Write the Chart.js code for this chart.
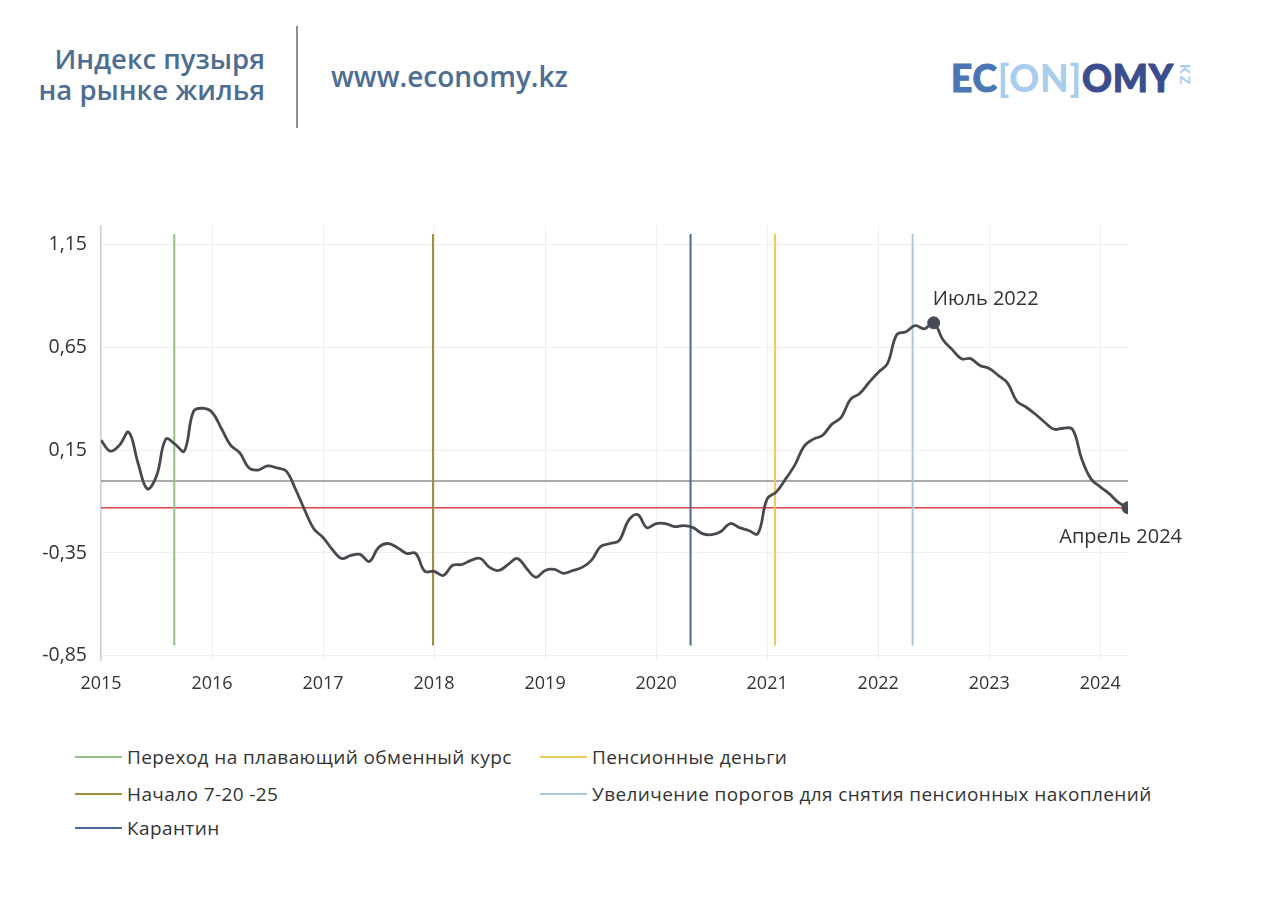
<!DOCTYPE html>
<html>
<head>
<meta charset="utf-8">
<script src="https://cdn.jsdelivr.net/npm/chart.js@4"></script>
<style>
  body { margin: 0; background: #fff; width: 1280px; height: 898px; overflow: hidden; position: relative; font-family: "Open Sans", sans-serif; }
  #title { position: absolute; right: 1015px; top: 43px; text-align: right; color: #4e6d92; font-size: 27.5px; font-weight: 600; line-height: 31px; }
  #divider { position: absolute; left: 296px; top: 26px; width: 2px; height: 102px; background: #8a9099; }
  #site { position: absolute; left: 331px; top: 57px; color: #4e6d92; font-size: 28px; font-weight: 600; }
  #logo { position: absolute; left: 951px; top: 55px; font-family: Lato, sans-serif; font-weight: 900; font-size: 37px; letter-spacing: 0.8px; -webkit-text-stroke: 1px currentColor; }
  #logo .a { color: #4a76b4; } #logo .b { color: #a9cdec; -webkit-text-stroke: 0; } #logo .c { color: #3b4d8e; }
  #kz { position: absolute; left: 1194px; top: 64px; font-family: Lato, sans-serif; font-weight: 900; font-size: 14px; letter-spacing: 2px; color: #a9cdec; transform: rotate(90deg); transform-origin: left top; }
  #wrap { position: absolute; left: 0; top: 200px; width: 1280px; height: 500px; }
  #legend { position: absolute; left: 75px; top: 744px; font-size: 19px; letter-spacing: 0.4px; color: #333; }
  .item { position: absolute; white-space: nowrap; display: flex; align-items: center; height: 26px; }
  .item i { display: inline-block; width: 47px; height: 2.5px; margin-right: 5px; }
</style>
</head>
<body>
<div id="title">Индекс пузыря<br>на рынке жилья</div>
<div id="divider"></div>
<div id="site">www.economy.kz</div>
<div id="logo"><span class="a">EC</span><span class="b">[ON]</span><span class="c">OMY</span></div>
<div id="kz">KZ</div>
<div id="wrap"><canvas id="chart"></canvas></div>
<div id="legend"></div>
<script>
// monthly index, Jan 2015 .. Apr 2024
const startYear = 2015;
const values = [
  0.198, 0.145, 0.174, 0.237, 0.087, -0.038, 0.024, 0.203, 0.179, 0.145, 0.338, 0.353,
  0.334, 0.256, 0.174, 0.136, 0.063, 0.053, 0.073, 0.063, 0.049, -0.038, -0.140, -0.232,
  -0.275, -0.333, -0.377, -0.362, -0.357, -0.391, -0.323, -0.304, -0.323, -0.352, -0.352, -0.439,
  -0.439, -0.459, -0.410, -0.406, -0.386, -0.377, -0.420, -0.435, -0.406, -0.377, -0.425, -0.468,
  -0.435, -0.430, -0.449, -0.435, -0.420, -0.386, -0.319, -0.304, -0.290, -0.193, -0.164, -0.227,
  -0.207, -0.207, -0.222, -0.217, -0.227, -0.256, -0.261, -0.246, -0.207, -0.227, -0.241, -0.256,
  -0.087, -0.053, 0.010, 0.078, 0.169, 0.203, 0.222, 0.276, 0.309, 0.396, 0.425, 0.478,
  0.527, 0.570, 0.710, 0.725, 0.754, 0.739, 0.768, 0.686, 0.638, 0.594, 0.594, 0.561,
  0.546, 0.512, 0.474, 0.387, 0.358, 0.324, 0.285, 0.251, 0.256, 0.251, 0.107, 0.010,
  -0.029, -0.063, -0.106, -0.130
];
const markIdx = [90, 111];
const markLabels = ["Июль 2022", "Апрель 2024"];
const eventNames = ["Переход на плавающий обменный курс", "Начало 7-20 -25", "Карантин", "Пенсионные деньги", "Увеличение порогов для снятия пенсионных накоплений"];
const eventDates = [2015.66, 2017.99, 2020.31, 2021.07, 2022.31];
const eventColors = ["#93c185", "#a38c3c", "#4c6a94", "#efc95c", "#a9c9e3"];
const refLevels = [0, -0.13];
const refColors = ["#8e8e8e", "#d9474a"];
const yearTicks = [2015, 2016, 2017, 2018, 2019, 2020, 2021, 2022, 2023, 2024];
const yTicks = [-0.85, -0.35, 0.15, 0.65, 1.15];

const xs = values.map((v, i) => startYear + i / 12);
const xMax = xs[xs.length - 1];

const datasets = [];
datasets.push({
  data: xs.map((x, i) => ({ x, y: values[i] })),
  borderColor: "#48494f", borderWidth: 2.8, pointRadius: 0, tension: 0.4, order: 1
});
datasets.push({
  data: markIdx.map(i => ({ x: xs[i], y: values[i] })),
  showLine: false, pointRadius: 6, pointBackgroundColor: "#454a55", pointBorderColor: "#454a55", order: 0
});
refLevels.forEach((lv, k) => datasets.push({
  data: [{ x: startYear, y: lv }, { x: xMax, y: lv }],
  borderColor: refColors[k], borderWidth: 1.6, pointRadius: 0, order: 3
}));
eventDates.forEach((d, k) => datasets.push({
  data: [{ x: d, y: -0.8 }, { x: d, y: 1.2 }],
  borderColor: eventColors[k], borderWidth: 2, pointRadius: 0, order: 2
}));

const labelPlugin = {
  id: "marks",
  afterDatasetsDraw(chart) {
    const ctx = chart.ctx;
    const pts = chart.getDatasetMeta(1).data;
    ctx.save();
    ctx.font = "20px 'Open Sans'";
    ctx.fillStyle = "#333";
    ctx.textBaseline = "middle";
    ctx.textAlign = "left";
    ctx.fillText(markLabels[0], pts[0].x - 1, pts[0].y - 24);
    ctx.textAlign = "right";
    ctx.fillText(markLabels[1], pts[1].x + 54, pts[1].y + 30);
    ctx.restore();
  }
};

new Chart(document.getElementById("chart"), {
  type: "line",
  data: { datasets },
  plugins: [labelPlugin],
  options: {
    responsive: true, maintainAspectRatio: false, animation: false,
    layout: { padding: { top: 22, right: 152, left: 0, bottom: 0 } },
    plugins: { legend: { display: false }, tooltip: { enabled: false } },
    scales: {
      x: {
        type: "linear", min: startYear, max: xMax,
        afterBuildTicks: s => { s.ticks = yearTicks.map(v => ({ value: v })); },
        afterFit: s => { s.height = 40; },
        grid: { color: "#eeeeee", drawTicks: false },
        border: { display: false },
        ticks: { padding: 13, color: "#333", font: { family: "Open Sans", size: 18 }, callback: v => String(v) }
      },
      y: {
        min: -0.87, max: 1.24,
        afterBuildTicks: s => { s.ticks = yTicks.map(v => ({ value: v })); },
        afterFit: s => { s.width = 101; },
        grid: { color: "#eeeeee", drawTicks: false },
        border: { display: true, color: "#cfcfcf", width: 1.5 },
        ticks: { padding: 14, color: "#333", font: { family: "Open Sans", size: 19.5 }, callback: v => v.toFixed(2).replace(".", ",") }
      }
    }
  }
});

// legend: two columns, filled column by column
const legend = document.getElementById("legend");
const pos = [[0, 0], [0, 37], [0, 71], [465, 0], [465, 37]];
eventNames.forEach((n, k) => {
  const d = document.createElement("div");
  d.className = "item";
  d.style.left = pos[k][0] + "px";
  d.style.top = pos[k][1] + "px";
  d.innerHTML = '<i style="background:' + eventColors[k] + '"></i>' + n;
  legend.appendChild(d);
});
</script>
</body>
</html>
